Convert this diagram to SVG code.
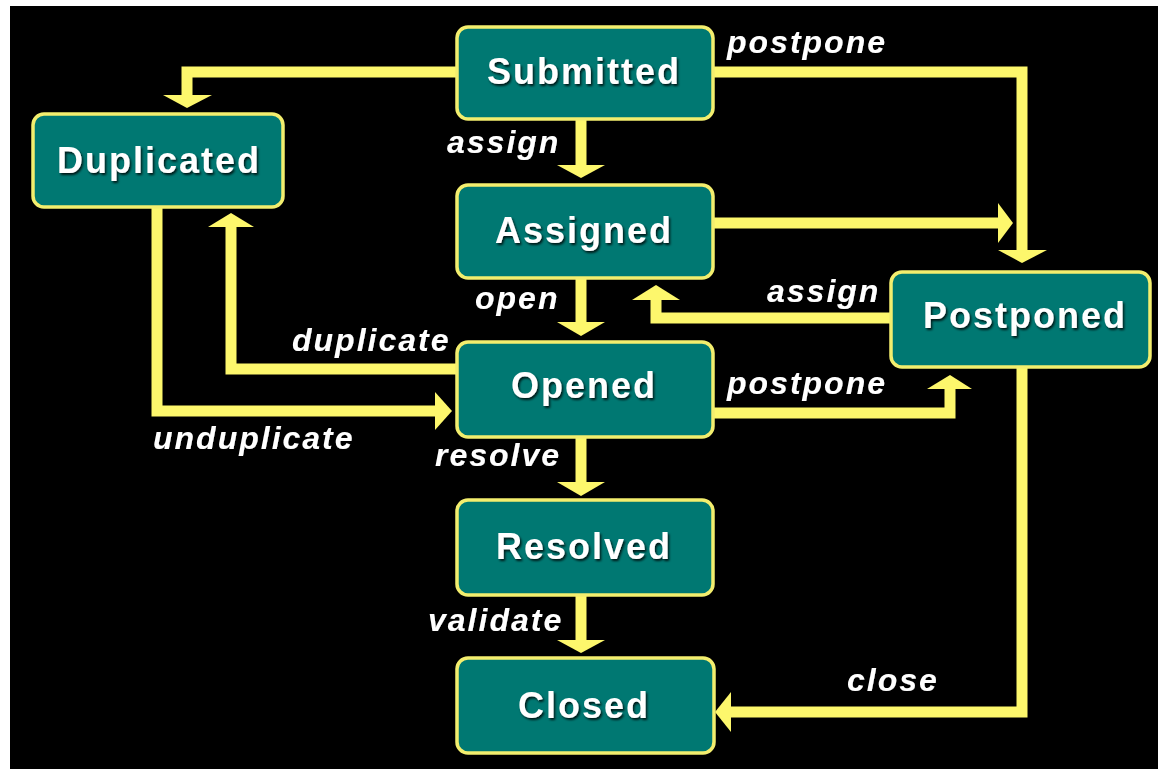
<svg xmlns="http://www.w3.org/2000/svg" width="1158" height="769" viewBox="0 0 1158 769">
<defs>
<style>
.node rect{fill:#007872;stroke:#f3ee6e;stroke-width:3.5}
.node text{font-family:"Liberation Sans",Arial,sans-serif;font-weight:bold;font-size:36px;letter-spacing:2px;fill:#ffffff;text-anchor:middle;filter:url(#sh)}
.conn path{fill:none;stroke:#fdf76c;stroke-width:11;stroke-linejoin:miter}
.conn polygon{fill:#fdf76c}
.lbl{font-family:"Liberation Sans",Arial,sans-serif;font-weight:bold;font-style:italic;font-size:32px;letter-spacing:2px;fill:#ffffff;filter:url(#sh)}
</style>
<filter id="sh" x="-10%" y="-20%" width="120%" height="150%">
<feDropShadow dx="1.5" dy="2" stdDeviation="1" flood-color="#000000" flood-opacity="0.8"/>
</filter>
</defs>
<rect x="0" y="0" width="1158" height="769" fill="#ffffff"/>
<rect x="10" y="6" width="1148" height="763" fill="#000000"/>
<g id="connectors" class="conn">
<path d="M457,72 H187 V96"/><polygon points="163,95 212,95 187,108"/>
<path d="M581,119 V166"/><polygon points="557,165 605,165 581,178"/>
<path d="M713,72 H1022 V251"/><polygon points="998,250 1047,250 1022,263"/>
<path d="M713,223 H999"/><polygon points="998,203 998,243 1013,223"/>
<path d="M581,278 V323"/><polygon points="557,322 605,322 581,336"/>
<path d="M891,318 H656 V299"/><polygon points="632,300 680,300 656,285"/>
<path d="M456,369 H231 V227"/><polygon points="208,227 254,227 231,213"/>
<path d="M157,207 V411 H436"/><polygon points="435,392 435,430 452,411"/>
<path d="M713,413 H950 V388"/><polygon points="927,389 972,389 950,375"/>
<path d="M581,437 V483"/><polygon points="557,482 605,482 581,496"/>
<path d="M581,595 V641"/><polygon points="557,640 605,640 581,653"/>
<path d="M1022,367 V712 H730"/><polygon points="731,692 731,732 715,712"/>
</g>
<g id="labels">
<text class="lbl" x="727" y="53">postpone</text>
<text class="lbl" x="447" y="153">assign</text>
<text class="lbl" x="475" y="309">open</text>
<text class="lbl" x="767" y="302">assign</text>
<text class="lbl" x="292" y="351">duplicate</text>
<text class="lbl" x="727" y="394">postpone</text>
<text class="lbl" x="153" y="449">unduplicate</text>
<text class="lbl" x="435" y="466">resolve</text>
<text class="lbl" x="428" y="631">validate</text>
<text class="lbl" x="847" y="691">close</text>
</g>
<g id="submitted" class="node"><rect x="457" y="27" width="256" height="92" rx="11"/><text x="584" y="84">Submitted</text></g>
<g id="duplicated" class="node"><rect x="33" y="114" width="250" height="93" rx="11"/><text x="159" y="173">Duplicated</text></g>
<g id="assigned" class="node"><rect x="457" y="185" width="256" height="93" rx="11"/><text x="584" y="243">Assigned</text></g>
<g id="opened" class="node"><rect x="457" y="342" width="256" height="95" rx="11"/><text x="584" y="398">Opened</text></g>
<g id="resolved" class="node"><rect x="457" y="500" width="256" height="95" rx="11"/><text x="584" y="559">Resolved</text></g>
<g id="closed" class="node"><rect x="457" y="658" width="257" height="95" rx="11"/><text x="584" y="718">Closed</text></g>
<g id="postponed" class="node"><rect x="891" y="272" width="259" height="95" rx="11"/><text x="1025" y="328">Postponed</text></g>
</svg>
